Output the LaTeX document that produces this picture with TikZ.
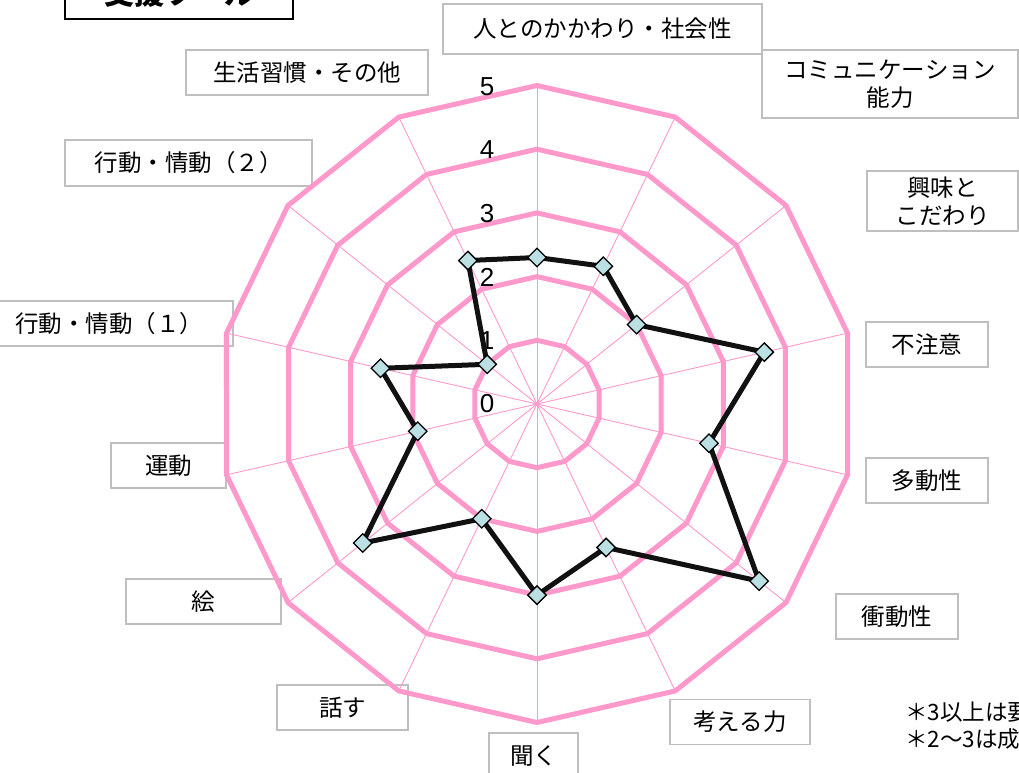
\documentclass[tikz,border=0pt]{standalone}
\usepackage{fontspec}
\setmainfont{Liberation Sans}
\newfontfamily\cjk{Noto Sans CJK JP}
\usetikzlibrary{shapes.geometric,calc}
\definecolor{ringpink}{RGB}{255,153,204}
\definecolor{boxgray}{RGB}{191,191,191}
\definecolor{mkfill}{RGB}{187,224,227}
\definecolor{serieslin}{RGB}{17,17,17}
\tikzset{
  lab/.style={draw=boxgray, line width=1.4pt, fill=white, inner sep=0pt, align=center,
    font=\cjk\fontsize{23.5}{28}\selectfont},
  ring/.style={draw=ringpink, line width=5pt, miter limit=10},
  spoke/.style={draw=ringpink, line width=0.9pt},
  series/.style={draw=serieslin, line width=5pt},
  mk/.style={diamond, draw=black, line width=1.3pt, fill=mkfill, minimum size=19pt, inner sep=0pt},
  ticklab/.style={font=\fontsize{26}{26}\selectfont, inner sep=0pt},
  titlebox/.style={draw=black, line width=2pt, inner sep=0pt, font=\cjk\bfseries\fontsize{30}{30}\selectfont},
  note/.style={font=\cjk\fontsize{22.5}{27}\selectfont, inner sep=0pt, anchor=west, align=left}
}
\begin{document}
\begin{tikzpicture}[x=1pt,y=-1pt]
\useasboundingbox (0,0) rectangle (1019,772);
\clip (0,0) rectangle (1019,772);
\fill[white] (0,0) rectangle (1019,772);

% title (cut off at top)
\node[titlebox, minimum width=228pt, minimum height=52pt] (title) at (179,-7) {支援ツール};

% axis label boxes
\node[lab, minimum width=319pt, minimum height=50pt] (l0) at (602.5,29) {人とのかかわり・社会性};
\node[lab, minimum width=256pt, minimum height=68pt] (l1) at (890,84) {コミュニケーション\\能力};
\node[lab, minimum width=151pt, minimum height=60pt] (l2) at (942.5,201) {興味と\\こだわり};
\node[lab, minimum width=122pt, minimum height=45pt] (l3) at (927,344.5) {不注意};
\node[lab, minimum width=122pt, minimum height=45pt] (l4) at (927,480.5) {多動性};
\node[lab, minimum width=122pt, minimum height=45pt] (l5) at (897,616.5) {衝動性};
\node[lab, minimum width=140pt, minimum height=45pt] (l6) at (740,722) {考える力};
\node[lab, minimum width=89pt, minimum height=45pt] (l7) at (533.5,755.5) {聞く};
\node[lab, minimum width=131pt, minimum height=45pt] (l8) at (342.5,707.5) {話す};
\node[lab, minimum width=155pt, minimum height=45pt] (l9) at (203.5,601.5) {絵};
\node[lab, minimum width=115pt, minimum height=45pt] (l10) at (168.5,465.5) {運動};
\node[lab, minimum width=248pt, minimum height=45pt] (l11) at (109,323.5) {行動・情動（１）};
\node[lab, minimum width=247pt, minimum height=46pt] (l12) at (188.5,163) {行動・情動（２）};
\node[lab, minimum width=242pt, minimum height=45pt] (l13) at (307,72.5) {生活習慣・その他};

% radar grid
\coordinate (C) at (537,404);
\foreach \i in {0,...,13}{
  \coordinate (v\i) at ($(C)+({-90+\i*360/14}:318.5)$);
  \draw[spoke] (C) -- (v\i);
}
\foreach \k in {1,...,5}{
  \draw[ring] ($(C)+(-90:\k*63.7)$)
    \foreach \i in {1,...,13}{ -- ($(C)+({-90+\i*360/14}:\k*63.7)$) } -- cycle;
}

% scale labels
\foreach \k in {0,...,5}{
  \node[ticklab] (t\k) at (487,{404-63.5*\k}) {\k};
}

% data series
\foreach \v [count=\j from 0] in {2.3,2.4,2.0,3.66,2.77,4.46,2.5,3.0,2.0,3.5,1.92,2.52,1.0,2.5}{
  \coordinate (q\j) at ($(C)+({-90+\j*360/14}:\v*63.7)$);
}
\draw[series] (q0) -- (q1) -- (q2) -- (q3) -- (q4) -- (q5) -- (q6) -- (q7)
  -- (q8) -- (q9) -- (q10) -- (q11) -- (q12) -- (q13) -- cycle;
\foreach \j in {0,...,13}{
  \node[mk] (m\j) at (q\j) {};
}

% notes (cut off at right)
\node[note] (n1) at (905,712) {＊3以上は要};
\node[note] (n2) at (905,739) {＊2〜3は成};
\end{tikzpicture}
\end{document}
